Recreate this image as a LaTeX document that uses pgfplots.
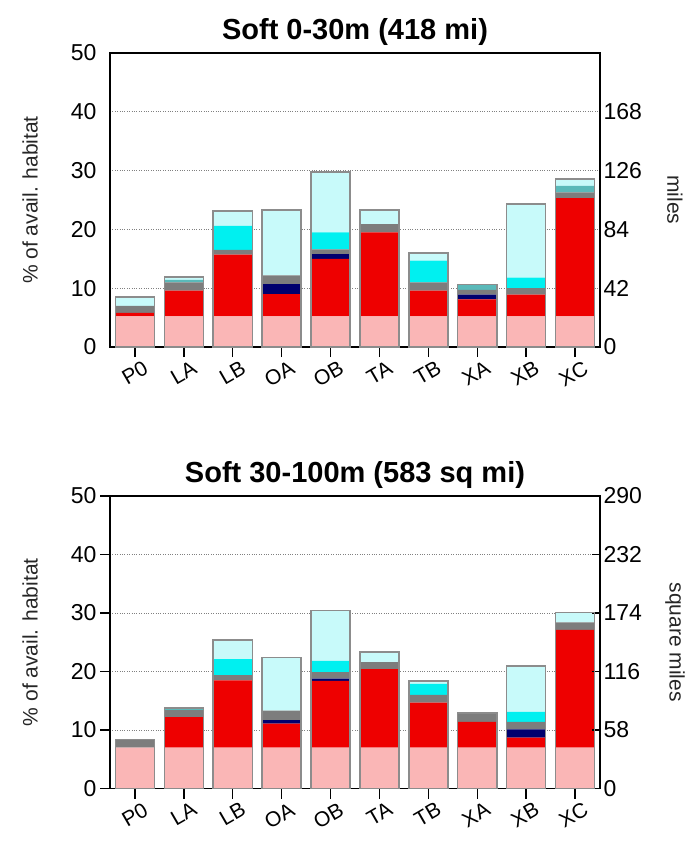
\documentclass[border=0pt]{standalone}
\usepackage{fontspec}
\setmainfont{Liberation Sans}
\usepackage{pgfplots}
\usepackage{pgfplotstable}
\pgfplotsset{compat=1.18}

\definecolor{cpink}{RGB}{250,182,182}
\definecolor{cred}{RGB}{238,0,0}
\definecolor{cnavy}{RGB}{0,0,110}
\definecolor{cgray}{RGB}{125,125,125}
\definecolor{cteal}{RGB}{90,185,185}
\definecolor{ccyan}{RGB}{0,240,240}
\definecolor{clcyan}{RGB}{200,250,250}
\definecolor{coutl}{RGB}{140,140,140}

% top panel: Soft 0-30m
\pgfplotstableread{
cat pink red navy gray teal cyan lcyan total
0 5.2 0.6  0   1.2 0   0   1.5  8.5
1 5.2 4.4  0   1.4 0.4 0   0.5  11.9
2 5.2 10.5 0   0.8 0   4.1 2.5  23.1
3 5.2 3.8  1.7 1.5 0   0   11.1 23.3
4 5.2 9.8  0.8 0.8 0   2.9 10.3 29.8
5 5.2 14.3 0   1.4 0   0   2.4  23.3
6 5.2 4.4  0   1.4 0   3.7 1.3  16.0
7 5.2 2.9  0.8 0.8 0.9 0   0    10.6
8 5.2 3.7  0   1.1 0   1.8 12.5 24.3
9 5.2 20.1 0   1.0 1.1 0   1.2  28.6
}\softA

% bottom panel: Soft 30-100m
\pgfplotstableread{
cat pink red navy gray teal cyan lcyan total
0 7.0 0    0   1.4 0   0   0    8.4
1 7.0 5.2  0   1.2 0.4 0   0    13.8
2 7.0 11.5 0   0.9 0   2.7 3.3  25.4
3 7.0 4.1  0.6 1.6 0   0   9.1  22.4
4 7.0 11.4 0.4 1.1 0   1.9 8.6  30.4
5 7.0 13.4 0   1.2 0   0   1.7  23.3
6 7.0 7.7  0   1.3 0   1.9 0.5  18.4
7 7.0 4.4  0   1.5 0   0   0    12.9
8 7.0 1.7  1.4 1.3 0   1.7 7.8  20.9
9 7.0 20.1 0   1.3 0   0   1.7  30.1
}\softB

\pgfplotsset{
  panel/.style={
    width=490pt, scale only axis,
    xmin=-0.51, xmax=9.51, ymin=0, ymax=50,
    bar width=0.8,
    /pgf/number format/assume math mode=true,
    tick label style={font=\fontsize{23}{26}\selectfont},
  },
  bars/.style={
    panel, ybar stacked,
    xtick={0,...,9},
    xticklabels={P0,LA,LB,OA,OB,TA,TB,XA,XB,XC},
    xtick pos=bottom, ytick pos=left,
    xtick align=outside, ytick align=outside,
    major tick length=10pt,
    every tick/.style={black, line width=1.5pt},
    xticklabel style={rotate=30, anchor=north east, inner sep=0pt, xshift=5pt, yshift=-6pt,
      font=\fontsize{21}{24}\selectfont},
    ytick={0,10,...,50},
    ymajorgrids, grid style={dotted, gray, line width=1pt},
    axis line style={line width=1.8pt},
    every axis y label/.style={at={(axis description cs:-0.163,0.5)}, rotate=90, anchor=center,
      font=\fontsize{21}{24}\selectfont, color=black!85},
  },
  frame/.style={
    panel, ybar,
    xtick=\empty,
    ytick pos=right, yticklabel pos=right,
    ytick align=inside, major tick length=8pt,
    every tick/.style={black, line width=1.5pt},
    axis line style={line width=1.8pt},
    every axis y label/.style={at={(axis description cs:1.153,0.5)}, rotate=-90, anchor=center,
      font=\fontsize{21}{24}\selectfont, color=black!85},
    title style={font=\bfseries\fontsize{29}{32}\selectfont, yshift=-2pt},
  },
}

\begin{document}
\begin{tikzpicture}
\path[use as bounding box] (0,0) rectangle (688pt,-845pt);

% ---- top panel ----
\begin{axis}[bars, at={(110pt,-347pt)}, height=294pt,
  ylabel={\% of avail. habitat}, y tick style={draw=none}]
\addplot[fill=cpink, draw=none] table[x=cat,y=pink]{\softA};
\addplot[fill=cred, draw=none] table[x=cat,y=red]{\softA};
\addplot[fill=cnavy, draw=none] table[x=cat,y=navy]{\softA};
\addplot[fill=cgray, draw=none] table[x=cat,y=gray]{\softA};
\addplot[fill=cteal, draw=none] table[x=cat,y=teal]{\softA};
\addplot[fill=ccyan, draw=none] table[x=cat,y=cyan]{\softA};
\addplot[fill=clcyan, draw=none] table[x=cat,y=lcyan]{\softA};
\end{axis}
\begin{axis}[frame, at={(110pt,-347pt)}, height=294pt,
  title={Soft 0-30m (418 mi)},
  ytick={0,10,20,30,40}, yticklabels={0,42,84,126,168},
  ylabel={miles}, y tick style={draw=none}]
\addplot[fill=none, draw=coutl, line width=1.5pt] table[x=cat,y=total]{\softA};
\end{axis}

% ---- bottom panel ----
\begin{axis}[bars, at={(110pt,-788.5pt)}, height=292.5pt,
  ylabel={\% of avail. habitat}]
\addplot[fill=cpink, draw=none] table[x=cat,y=pink]{\softB};
\addplot[fill=cred, draw=none] table[x=cat,y=red]{\softB};
\addplot[fill=cnavy, draw=none] table[x=cat,y=navy]{\softB};
\addplot[fill=cgray, draw=none] table[x=cat,y=gray]{\softB};
\addplot[fill=cteal, draw=none] table[x=cat,y=teal]{\softB};
\addplot[fill=ccyan, draw=none] table[x=cat,y=cyan]{\softB};
\addplot[fill=clcyan, draw=none] table[x=cat,y=lcyan]{\softB};
\end{axis}
\begin{axis}[frame, at={(110pt,-788.5pt)}, height=292.5pt,
  title={Soft 30-100m (583 sq mi)},
  ytick={0,10,20,30,40,50}, yticklabels={0,58,116,174,232,290},
  ylabel={square miles}]
\addplot[fill=none, draw=coutl, line width=1.5pt] table[x=cat,y=total]{\softB};
\end{axis}
\end{tikzpicture}
\end{document}
